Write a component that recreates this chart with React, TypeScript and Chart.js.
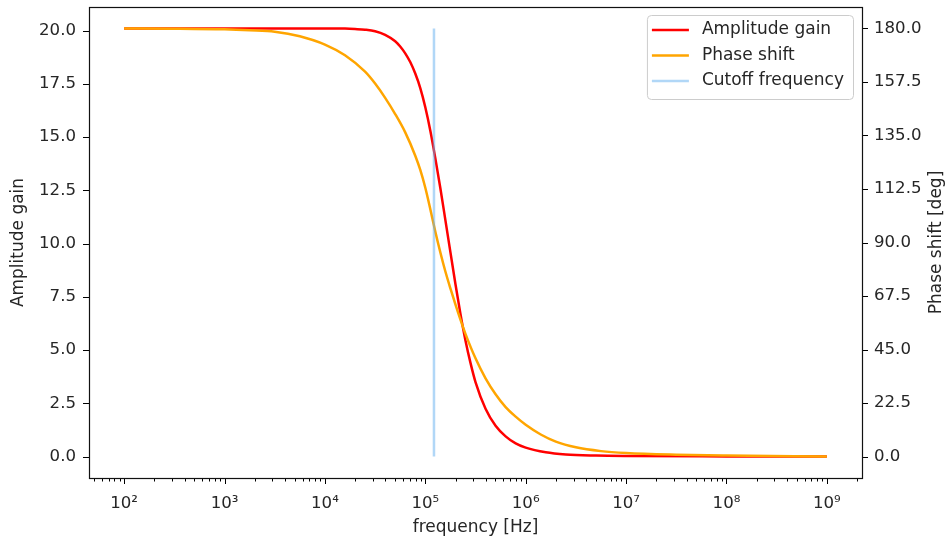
import React, { useEffect, useRef } from 'react';
import { Chart, registerables } from 'chart.js';

Chart.register(...registerables);

// ---- data ----
const ampLogFrequency = [2, 3, 4, 4.2, 4.3, 4.4, 4.5, 4.6, 4.7, 4.75, 4.8, 4.85, 4.9, 4.95, 5.0, 5.05, 5.1, 5.15, 5.2, 5.25, 5.3, 5.35, 5.4, 5.45, 5.5, 5.6, 5.7, 5.8, 5.9, 6.0, 6.2, 6.4, 6.7, 7.0, 8.0, 9.0];
const amplitudeGain = [20.1, 20.1, 20.1, 20.09, 20.07, 20.04, 19.97, 19.8, 19.5, 19.25, 18.93, 18.52, 17.98, 17.3, 16.4, 15.3, 14.0, 12.6, 11.1, 9.6, 8.1, 6.7, 5.45, 4.4, 3.5, 2.25, 1.45, 0.95, 0.62, 0.42, 0.2, 0.1, 0.05, 0.03, 0.01, 0.0];
const phaseLogFrequency = [2, 2.5, 3, 3.25, 3.5, 3.75, 4.0, 4.2, 4.4, 4.5, 4.6, 4.7, 4.8, 4.9, 4.95, 5.0, 5.05, 5.1, 5.15, 5.2, 5.25, 5.3, 5.35, 5.4, 5.5, 5.6, 5.7, 5.8, 5.9, 6.0, 6.15, 6.3, 6.5, 6.75, 7.0, 7.5, 8.0, 9.0];
const phaseShift = [180, 179.9, 179.6, 179.2, 178.6, 176.7, 173.2, 168.7, 161.8, 156.8, 150.8, 144.0, 136.3, 126.5, 120.5, 113, 104, 94.5, 85.8, 77.8, 70.7, 64.0, 57.6, 51.6, 41.3, 32.9, 26.2, 20.8, 16.8, 13.4, 9.3, 6.3, 3.9, 2.3, 1.5, 0.8, 0.45, 0.05];
const cutoffFrequency = 1.22e5;
const cutoffRange = [0, 20.1];

const xTickExponents = [2, 3, 4, 5, 6, 7, 8, 9];
const leftTicks = [0, 2.5, 5, 7.5, 10, 12.5, 15, 17.5, 20];
const rightTicks = [0, 22.5, 45, 67.5, 90, 112.5, 135, 157.5, 180];

const SUP: Record<string, string> = { '0': '⁰', '1': '¹', '2': '²', '3': '³', '4': '⁴', '5': '⁵', '6': '⁶', '7': '⁷', '8': '⁸', '9': '⁹', '-': '⁻' };
const sup = (n: number) => String(n).split('').map((c) => SUP[c] || c).join('');

const FONT_FAMILY = 'DejaVu Sans';
const TICK_SIZE = 16.6;
const LABEL_SIZE = 17;
const TEXT = '#262626';

const mplPlugin = {
  id: 'mplAxes',
  afterDraw(chart: any) {
    const { ctx, chartArea: a, scales } = chart;
    ctx.save();
    ctx.strokeStyle = '#000';
    ctx.lineWidth = 1;
    const vline = (px: number, y0: number, y1: number) => {
      const x = Math.round(px) + 0.5;
      ctx.beginPath(); ctx.moveTo(x, y0); ctx.lineTo(x, y1); ctx.stroke();
    };
    const hline = (py: number, x0: number, x1: number) => {
      const y = Math.round(py) + 0.5;
      ctx.beginPath(); ctx.moveTo(x0, y); ctx.lineTo(x1, y); ctx.stroke();
    };
    const xs = scales.x;
    for (let e = 1; e <= 9; e++) {
      for (let m = 1; m <= 9; m++) {
        const v = m * Math.pow(10, e);
        if (v < xs.min || v > xs.max) continue;
        const len = m === 1 ? 6 : 3.5;
        vline(xs.getPixelForValue(v), a.bottom, a.bottom + len);
      }
    }
    leftTicks.forEach((v) => hline(scales.y.getPixelForValue(v), a.left - 6, a.left));
    rightTicks.forEach((v) => hline(scales.y1.getPixelForValue(v), a.right, a.right + 6));

    // frame
    ctx.lineWidth = 1.2;
    ctx.strokeStyle = '#111';
    ctx.strokeRect(Math.round(a.left) + 0.5, Math.round(a.top) + 0.5, Math.round(a.width), Math.round(a.height));

    // legend
    ctx.font = `${LABEL_SIZE}px "${FONT_FAMILY}"`;
    const ds = chart.data.datasets;
    const maxW = Math.max(...ds.map((d: any) => ctx.measureText(d.label).width));
    const bw = 5 + 37 + 13 + maxW + 9;
    const bh = 84;
    const bx = a.right - 9 - bw;
    const by = a.top + 8;
    ctx.beginPath();
    if (ctx.roundRect) ctx.roundRect(bx + 0.5, by + 0.5, bw, bh, 4); else ctx.rect(bx + 0.5, by + 0.5, bw, bh);
    ctx.fillStyle = 'rgba(255,255,255,0.8)';
    ctx.fill();
    ctx.strokeStyle = '#cccccc';
    ctx.lineWidth = 1;
    ctx.stroke();
    ds.forEach((d: any, i: number) => {
      const ry = by + 15 + i * 25.5;
      ctx.strokeStyle = d.borderColor;
      ctx.lineWidth = 2.5;
      ctx.beginPath(); ctx.moveTo(bx + 5, ry); ctx.lineTo(bx + 42, ry); ctx.stroke();
      ctx.fillStyle = TEXT;
      ctx.textBaseline = 'alphabetic';
      ctx.textAlign = 'left';
      ctx.fillText(d.label, bx + 55, ry + 4);
    });

    // right axis title (bottom-to-top like matplotlib)
    ctx.save();
    ctx.translate(937, (a.top + a.bottom) / 2);
    ctx.rotate(-Math.PI / 2);
    ctx.textAlign = 'center';
    ctx.textBaseline = 'middle';
    ctx.fillStyle = TEXT;
    ctx.fillText('Phase shift [deg]', 0, 0);
    ctx.restore();
    ctx.restore();
  },
};

export default function App() {
  const ref = useRef<HTMLCanvasElement | null>(null);
  useEffect(() => {
    if (!ref.current) return;
    Chart.defaults.font.family = FONT_FAMILY;
    Chart.defaults.font.size = TICK_SIZE;
    Chart.defaults.color = TEXT;
    const font = { family: FONT_FAMILY, size: TICK_SIZE };
    const labelFont = { family: FONT_FAMILY, size: LABEL_SIZE };
    const vFit = (w: number) => (s: any) => { s.width = w; s.paddingTop = 0; s.paddingBottom = 0; };
    const chart = new Chart(ref.current, {
      type: 'line',
      data: {
        datasets: [
          {
            label: 'Amplitude gain',
            data: ampLogFrequency.map((l, i) => ({ x: Math.pow(10, l), y: amplitudeGain[i] })),
            borderColor: '#ff0000',
            borderWidth: 2.5,
            pointRadius: 0,
            cubicInterpolationMode: 'monotone',
            yAxisID: 'y',
            order: 3,
          },
          {
            label: 'Phase shift',
            data: phaseLogFrequency.map((l, i) => ({ x: Math.pow(10, l), y: phaseShift[i] })),
            borderColor: '#ffa500',
            borderWidth: 2.5,
            pointRadius: 0,
            cubicInterpolationMode: 'monotone',
            yAxisID: 'y1',
            order: 2,
          },
          {
            label: 'Cutoff frequency',
            data: cutoffRange.map((v) => ({ x: cutoffFrequency, y: v })),
            borderColor: 'rgba(100,175,240,0.5)',
            borderWidth: 2.5,
            pointRadius: 0,
            tension: 0,
            yAxisID: 'y',
            order: 1,
          },
        ],
      } as any,
      options: {
        animation: false,
        responsive: false,
        layout: { padding: { top: 7, left: 0, right: 0, bottom: 0 } },
        plugins: { legend: { display: false }, tooltip: { enabled: false } },
        scales: {
          x: {
            type: 'logarithmic',
            min: Math.pow(10, 1.65),
            max: Math.pow(10, 9.35),
            afterBuildTicks: (s: any) => { s.ticks = xTickExponents.map((e) => ({ value: Math.pow(10, e) })); },
            afterFit: (s: any) => { s.height = 65; s.paddingLeft = 0; s.paddingRight = 0; },
            ticks: {
              autoSkip: false,
              maxRotation: 0,
              padding: 10,
              font,
              color: TEXT,
              callback: (v: any) => '10' + sup(Math.round(Math.log10(Number(v)))),
            },
            grid: { display: false, drawTicks: true, tickLength: 6 },
            border: { display: false },
            title: { display: true, text: 'frequency [Hz]', font: labelFont, color: TEXT, padding: { top: 0, bottom: 5 } },
          },
          y: {
            type: 'linear',
            position: 'left',
            min: -1.005,
            max: 21.105,
            afterBuildTicks: (s: any) => { s.ticks = leftTicks.map((v) => ({ value: v })); },
            afterFit: vFit(89),
            ticks: { padding: 7, font, color: TEXT, callback: (v: any) => Number(v).toFixed(1) },
            grid: { display: false, drawTicks: true, tickLength: 6 },
            border: { display: false },
            title: { display: true, text: 'Amplitude gain', font: labelFont, color: TEXT, padding: { top: 8, bottom: 0 } },
          },
          y1: {
            type: 'linear',
            position: 'right',
            min: -9,
            max: 189,
            afterBuildTicks: (s: any) => { s.ticks = rightTicks.map((v) => ({ value: v })); },
            afterFit: vFit(85),
            ticks: { padding: 6, font, color: TEXT, callback: (v: any) => Number(v).toFixed(1) },
            grid: { display: false, drawTicks: true, tickLength: 6, drawOnChartArea: false },
            border: { display: false },
          },
        },
      } as any,
      plugins: [mplPlugin],
    });
    return () => chart.destroy();
  }, []);
  return (
    <div style={{ position: 'absolute', left: 0, top: 0, width: 947, height: 543, background: '#fff' }}>
      <canvas ref={ref} width={947} height={543} style={{ display: 'block' }} />
    </div>
  );
}
